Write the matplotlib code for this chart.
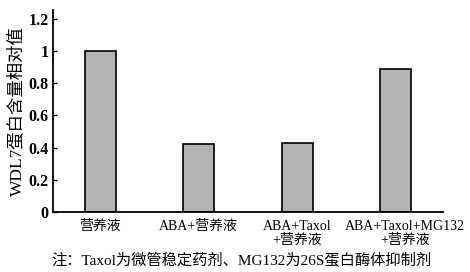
import matplotlib.pyplot as plt
import matplotlib.transforms as mtransforms
import numpy as np

plt.rcParams['font.family'] = ['Liberation Serif', 'Noto Sans CJK SC']

# values
groups = ['营养液', 'ABA+营养液', 'ABA+Taxol\n+营养液', 'ABA+Taxol+MG132\n+营养液']
values = [1.0, 0.42, 0.43, 0.89]
yticks = [0, 0.2, 0.4, 0.6, 0.8, 1, 1.2]
ytick_labels = ['0', '0.2', '0.4', '0.6', '0.8', '1', '1.2']

fig = plt.figure(figsize=(4.7, 2.72), dpi=100)
ax = fig.add_axes([0.1128, 0.2206, 0.8298, 0.7424])

x = np.arange(len(groups))
ax.bar(x, values, width=0.315, color='#b3b3b3', edgecolor='black', linewidth=1.2)

ax.set_xlim(-0.477, 3.48)
ax.set_ylim(0, 1.255)
ax.set_yticks(yticks)
ax.set_yticklabels(ytick_labels, fontsize=11.5, fontweight='bold')
ax.set_xticks(x)
ax.set_xticklabels(groups, fontsize=10, linespacing=1.1)
ax.tick_params(axis='y', direction='in', length=3, width=1, pad=3)
ax.tick_params(axis='x', length=0, pad=6)

# last label sits a little right of its bar in the original
lab = ax.get_xticklabels()[-1]
lab.set_transform(lab.get_transform() + mtransforms.ScaledTranslation(0.09, 0, fig.dpi_scale_trans))

for side in ['top', 'right']:
    ax.spines[side].set_visible(False)
for side in ['left', 'bottom']:
    ax.spines[side].set_linewidth(1.3)

ax.set_ylabel('WDL7蛋白含量相对值', fontsize=12.5, labelpad=2)

fig.text(0.11, 0.047, '注：Taxol为微管稳定药剂、MG132为26S蛋白酶体抑制剂',
         fontsize=11, ha='left', va='center')

fig.savefig('out.png', dpi=100)
